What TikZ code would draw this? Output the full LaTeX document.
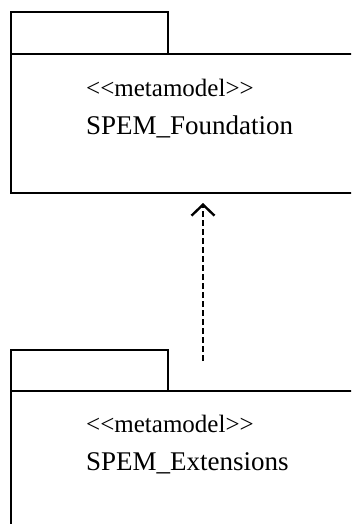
\documentclass[tikz,border=0pt]{standalone}
\usepackage{fontspec}
\setmainfont{Liberation Serif}
\usetikzlibrary{arrows.meta}
\newcommand{\stlt}{<\kern0pt<}
\newcommand{\stgt}{>\kern0pt>}
\begin{document}
\begin{tikzpicture}[x=1pt,y=-1pt,
  pkgline/.style={draw=black, line width=1.8pt, rectangle, inner sep=0pt, anchor=north west},
  lbl/.style={anchor=base west, inner sep=0pt, font=\fontsize{27}{30}\selectfont},
  stereo/.style={anchor=base west, inner sep=0pt, font=\fontsize{25}{30}\selectfont},
  dep/.style={line width=2.8pt, dash pattern=on 6pt off 3pt,
    -{Straight Barb[length=11pt,width=23pt,line width=2.4pt]}}]
\useasboundingbox (0,0) rectangle (351,524);
\clip (0,0) rectangle (351,524);
\fill[white] (0,0) rectangle (351,524);
% top package
\node[pkgline, minimum width=157pt, minimum height=42pt] (tabA) at (10,11) {};
\node[pkgline, minimum width=370pt, minimum height=139pt] (bodyA) at (10,53) {};
\node[stereo] (stA) at (86,96) {\stlt metamodel\stgt};
\node[lbl] (nmA) at (86,135) {SPEM\_Foundation};
% bottom package
\node[pkgline, minimum width=157pt, minimum height=41pt] (tabB) at (10,349) {};
\node[pkgline, minimum width=370pt, minimum height=160pt] (bodyB) at (10,390) {};
\node[stereo] (stB) at (86,432) {\stlt metamodel\stgt};
\node[lbl] (nmB) at (86,470) {SPEM\_Extensions};
% dependency
\coordinate (depFrom) at (203,361);
\coordinate (depTo) at (203,203);
\draw[dep] (depFrom) -- (depTo);
\end{tikzpicture}
\end{document}
